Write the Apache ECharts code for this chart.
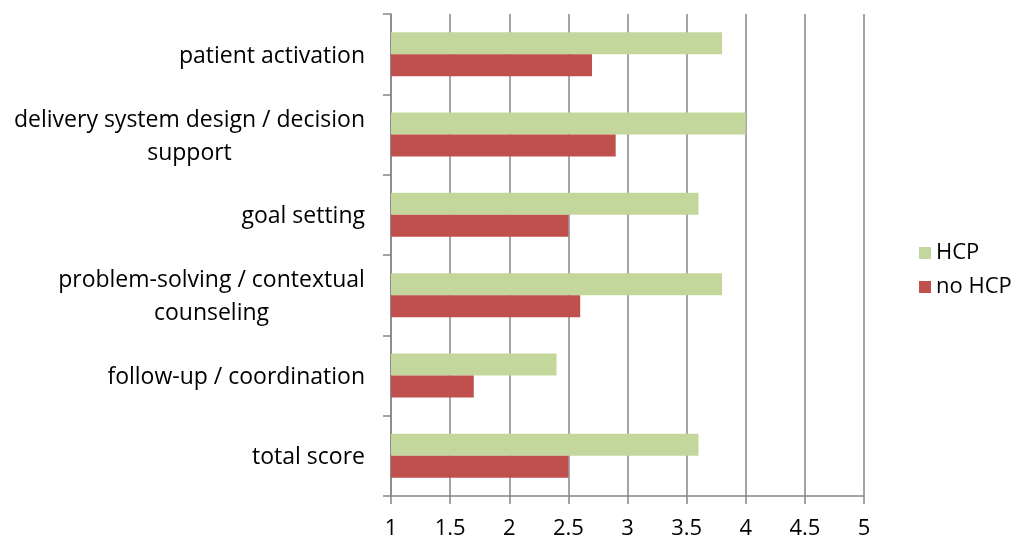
<!DOCTYPE html>
<html lang="en">
<head>
    <meta charset="UTF-8">
    <title>HCP scores</title>
    <style>
        html, body { margin: 0; padding: 0; background: #fff; }
        #barChart { width: 1016px; height: 540px; }
    </style>
</head>
<body>
<div id="barChart"></div>
<script src="https://cdn.jsdelivr.net/npm/echarts@6/dist/echarts.min.js"></script>
<script type="text/javascript">
    var categories = ['patient activation', 'delivery system design / decision\nsupport', 'goal setting',
        'problem-solving / contextual\ncounseling', 'follow-up / coordination', 'total score'];
    var hcp = [3.8, 4.0, 3.6, 3.8, 2.4, 3.6];
    var noHcp = [2.7, 2.9, 2.5, 2.6, 1.7, 2.5];
    var xTicks = [1, 1.5, 2, 2.5, 3, 3.5, 4, 4.5, 5];

    var font = '"Open Sans", Lato, sans-serif';
    var labelSize = 23;

    // wrapped labels: lines centred inside the block, block right-aligned
    var ctx = document.createElement('canvas').getContext('2d');
    ctx.font = labelSize + 'px ' + font;
    var rich = {};
    categories.forEach(function (c, i) {
        var lines = c.split('\n');
        if (lines.length > 1) {
            var w = Math.max.apply(null, lines.map(function (l) { return ctx.measureText(l).width; }));
            rich['c' + i] = { width: Math.ceil(w), align: 'center', fontSize: labelSize, lineHeight: 33, fontFamily: font, color: '#000' };
        }
    });

    var myChart = echarts.init(document.getElementById('barChart'));
    var option = {
        animation: false,
        textStyle: { fontFamily: font },
        grid: {
            left: 391,
            right: 152,
            top: 14,
            bottom: 43
        },
        legend: {
            orient: 'vertical',
            left: 914,
            top: 237,
            itemWidth: 12,
            itemHeight: 12,
            itemGap: 12,
            icon: 'rect',
            textStyle: { fontSize: 22, color: '#000', fontFamily: font },
            data: ['HCP', 'no HCP']
        },
        xAxis: {
            type: 'value',
            min: xTicks[0],
            max: xTicks[xTicks.length - 1],
            interval: 0.5,
            axisLine: { show: true, lineStyle: { color: '#868686', width: 1.5 } },
            axisTick: { show: true, length: 8, lineStyle: { color: '#868686', width: 1.5 } },
            axisLabel: { fontSize: 22, color: '#000', margin: 22, fontFamily: font },
            splitLine: { show: true, lineStyle: { color: '#868686', width: 1.5 } }
        },
        yAxis: {
            type: 'category',
            inverse: true,
            data: categories,
            axisLine: { show: true, lineStyle: { color: '#868686', width: 1.5 } },
            axisTick: { show: true, length: 8, lineStyle: { color: '#868686', width: 1.5 } },
            axisLabel: {
                fontSize: labelSize, color: '#000', margin: 26, align: 'right', lineHeight: 33, fontFamily: font,
                padding: [4, 0, 0, 0],
                rich: rich,
                formatter: function (value, idx) {
                    if (!rich['c' + idx]) return value;
                    return value.split('\n').map(function (l) { return '{c' + idx + '|' + l + '}'; }).join('\n');
                }
            }
        },
        series: [{
            name: 'HCP',
            type: 'bar',
            data: hcp,
            barWidth: 22,
            barGap: '0%',
            itemStyle: { color: '#C3D69B' }
        }, {
            name: 'no HCP',
            type: 'bar',
            data: noHcp,
            barWidth: 22,
            barGap: '0%',
            itemStyle: { color: '#C0504D' }
        }]
    };
    myChart.setOption(option);
</script>
</body>
</html>
